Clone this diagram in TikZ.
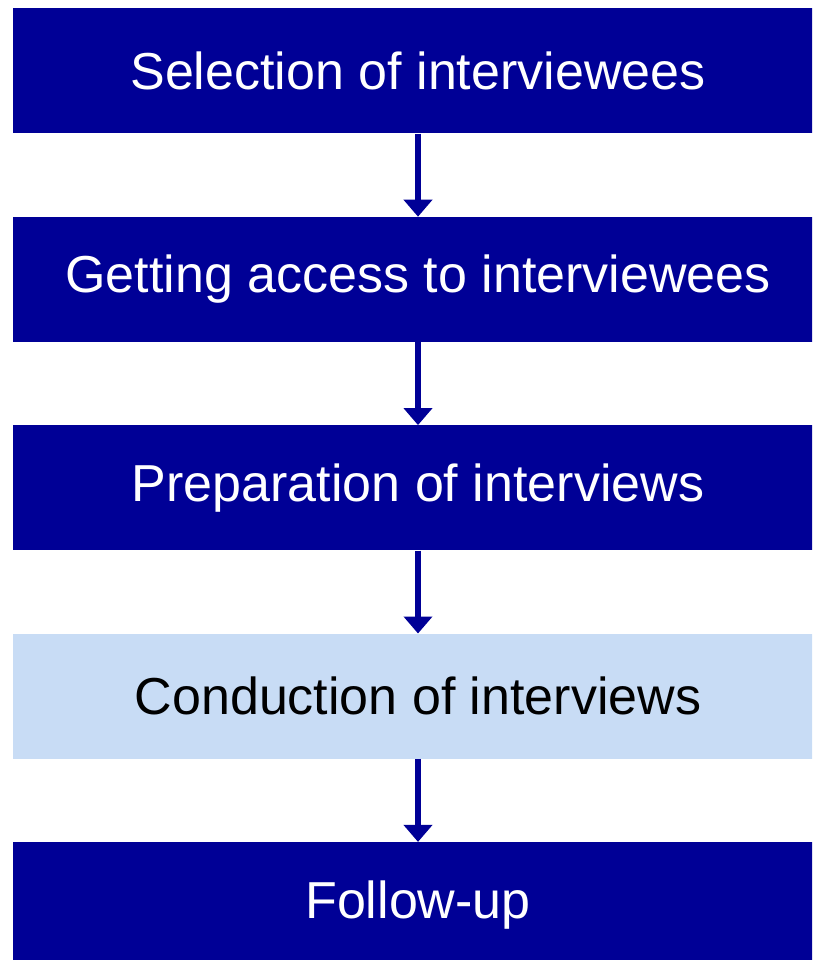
\documentclass[tikz,border=0pt]{standalone}
\usepackage{fontspec}
\setmainfont{Liberation Sans}
\usetikzlibrary{arrows.meta,positioning}
\definecolor{interviewnavy}{RGB}{0,0,150}
\definecolor{interviewpale}{RGB}{200,220,245}
\tikzset{
  interviewpicture/.style={node distance=83pt, x=1pt, y=1pt},
  interviewbox/.style={fill=interviewnavy, text=white, inner sep=0pt, minimum width=810pt, minimum height=125pt, font=\fontsize{52}{60}\selectfont},
  interviewpalebox/.style={interviewbox, fill=interviewpale, text=black},
  interviewarrow/.style={-{Triangle[length=17pt, width=28pt]}, line width=6pt, draw=interviewnavy}
}

\begin{document}
\begin{tikzpicture}[interviewpicture]
\useasboundingbox (0,0) rectangle (812,-960);
\clip (0,0) rectangle (812,-960);
\node[interviewbox] (select) at (418,-71) {Selection of interviewees};
\node[interviewbox, below=of select] (access) {Getting access to interviewees};
\node[interviewbox, below=of access] (prepare) {Preparation of interviews};
\node[interviewpalebox, below=of prepare] (conduct) {Conduction of interviews};
\node[interviewbox, below=of conduct] (follow) {Follow-up};
\draw[interviewarrow] (select) -- (access);
\draw[interviewarrow] (access) -- (prepare);
\draw[interviewarrow] (prepare) -- (conduct);
\draw[interviewarrow] (conduct) -- (follow);
\end{tikzpicture}
\end{document}
